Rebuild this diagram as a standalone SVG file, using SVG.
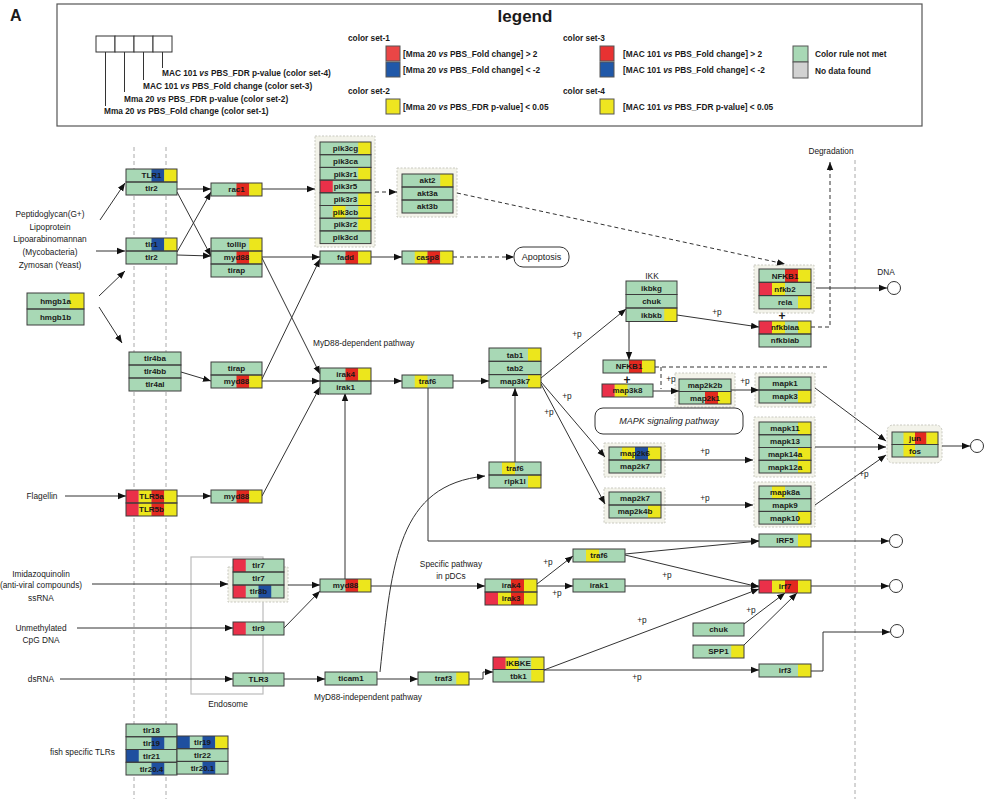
<svg xmlns="http://www.w3.org/2000/svg" width="985" height="799" viewBox="0 0 985 799">
<defs>
<marker id="a" viewBox="0 0 10 10" refX="10" refY="5" markerWidth="8" markerHeight="8" markerUnits="userSpaceOnUse" orient="auto"><path d="M0,1 L10,5 L0,9 z" fill="#111"/></marker>
<style>
text{font-family:"Liberation Sans",Arial,sans-serif;fill:#1a1a1a}
.t{font-size:8px;font-weight:bold;text-anchor:middle}
.l{font-size:8.3px}
.c{text-anchor:middle}
.lg{font-size:8.3px;font-weight:bold}
.gb{fill:#a8d8b5}
.o{fill:none;stroke:#3c3c3c;stroke-width:1}
.r1{fill:#ea3049}
.r{fill:#e3291f}
.b{fill:#1f4f9f}
.y{fill:#ece61c}
.bg{fill:#f3f3ea;stroke:#c9c9c0;stroke-width:1;stroke-dasharray:2,1.5}
.ln{fill:none;stroke:#333;stroke-width:1}
.ar{fill:none;stroke:#333;stroke-width:1;marker-end:url(#a)}
.da{fill:none;stroke:#333;stroke-width:1;stroke-dasharray:4,3;marker-end:url(#a)}
.dl{fill:none;stroke:#333;stroke-width:1;stroke-dasharray:4,3}
.vd{fill:none;stroke:#aaa;stroke-width:1;stroke-dasharray:4,3}
</style>
</defs>
<rect width="985" height="799" fill="#fff"/>

<!-- legend -->
<g id="legend">
<text x="10" y="21" style="font-size:16px;font-weight:bold">A</text>
<rect x="57" y="4" width="865" height="122" fill="#fff" stroke="#555" stroke-width="1.2"/>
<text x="525" y="22" class="c" style="font-size:17px;font-weight:bold">legend</text>
<rect x="96" y="36" width="19" height="16" fill="#fff" stroke="#333"/>
<rect x="115" y="36" width="19" height="16" fill="#fff" stroke="#333"/>
<rect x="134" y="36" width="19" height="16" fill="#fff" stroke="#333"/>
<rect x="153" y="36" width="19" height="16" fill="#fff" stroke="#333"/>
<path class="ln" d="M105.5,52V106M124.5,52V92M143.5,52V80M162.5,52V68"/>
<text x="162" y="76" class="lg">MAC 101 <tspan font-style="italic">vs</tspan> PBS_FDR p-value (color set-4)</text>
<text x="143" y="89" class="lg">MAC 101 <tspan font-style="italic">vs</tspan> PBS_Fold change (color set-3)</text>
<text x="124" y="102" class="lg">Mma 20 <tspan font-style="italic">vs</tspan> PBS_FDR p-value (color set-2)</text>
<text x="104" y="114" class="lg">Mma 20 <tspan font-style="italic">vs</tspan> PBS_Fold change (color set-1)</text>
<text x="348" y="41" class="lg">color set-1</text>
<text x="348" y="94" class="lg">color set-2</text>
<text x="563" y="41" class="lg">color set-3</text>
<text x="563" y="94" class="lg">color set-4</text>
<rect x="386" y="46" width="14" height="15" fill="#ea4646" stroke="#555"/>
<rect x="386" y="62" width="14" height="15" fill="#2058a8" stroke="#555"/>
<rect x="386" y="99" width="14" height="15" fill="#eee620" stroke="#555"/>
<rect x="600" y="46" width="14" height="15" fill="#e83232" stroke="#555"/>
<rect x="600" y="62" width="14" height="15" fill="#2058a8" stroke="#555"/>
<rect x="600" y="99" width="14" height="15" fill="#eee620" stroke="#555"/>
<rect x="793" y="46" width="15" height="16" fill="#a8d8b5" stroke="#555"/>
<rect x="793" y="62" width="15" height="16" fill="#d2d2d2" stroke="#555"/>
<text x="403" y="57" class="lg">[Mma 20 <tspan font-style="italic">vs</tspan> PBS_Fold change] &gt; 2</text>
<text x="403" y="73" class="lg">[Mma 20 <tspan font-style="italic">vs</tspan> PBS_Fold change] &lt; -2</text>
<text x="403" y="110" class="lg">[Mma 20 <tspan font-style="italic">vs</tspan> PBS_FDR p-value] &lt; 0.05</text>
<text x="623" y="57" class="lg">[MAC 101 <tspan font-style="italic">vs</tspan> PBS_Fold change] &gt; 2</text>
<text x="623" y="73" class="lg">[MAC 101 <tspan font-style="italic">vs</tspan> PBS_Fold change] &lt; -2</text>
<text x="623" y="110" class="lg">[MAC 101 <tspan font-style="italic">vs</tspan> PBS_FDR p-value] &lt; 0.05</text>
<text x="815" y="57" class="lg">Color rule not met</text>
<text x="815" y="74" class="lg">No data found</text>
</g>

<!-- compartment lines -->
<g id="compartments">
<path class="vd" d="M134,147V799M166,147V799"/>
<path class="vd" d="M855,160V799" stroke="#bbb"/>
<rect x="191" y="557" width="72" height="137" fill="none" stroke="#bbb" stroke-width="1.2"/>
<text x="228" y="707" class="l c">Endosome</text>
</g>

<!-- group backgrounds -->
<g id="groups">
<rect class="bg" x="315" y="136" width="60" height="111"/>
<rect class="bg" x="397" y="168" width="60" height="49"/>
<rect class="bg" x="754" y="265" width="60" height="48"/>
<rect class="bg" x="675" y="373" width="60" height="34"/>
<rect class="bg" x="755" y="373" width="60" height="34"/>
<rect class="bg" x="604" y="443" width="61" height="34"/>
<rect class="bg" x="604" y="488" width="61" height="35"/>
<rect class="bg" x="754" y="417" width="61" height="60"/>
<rect class="bg" x="754" y="482" width="61" height="45"/>
<rect class="bg" x="887" y="425" width="55" height="38" rx="6"/>
<rect class="bg" x="228" y="567" width="60" height="35"/>
</g>

<!-- connectors -->
<g id="connectors">
<path class="ar" d="M100,220L125,183"/>
<path class="ar" d="M96,251L125,251"/>
<path class="ar" d="M99,296L125,271"/>
<path class="ar" d="M99,307L122,343"/>
<path class="ar" d="M177,189L211,189"/>
<path class="ar" d="M177,192L211,256"/>
<path class="ar" d="M177,252L211,192"/>
<path class="ar" d="M177,255L211,256"/>
<path class="ar" d="M262,189L315,189"/>
<path class="ar" d="M262,257L320,257"/>
<path class="ar" d="M262,258L320,374"/>
<path class="ar" d="M262,379L320,259"/>
<path class="ar" d="M262,381L320,381"/>
<path class="ar" d="M181,372L211,381"/>
<path class="ar" d="M262,496L320,387"/>
<path class="ar" d="M65,496L126,496"/>
<path class="ar" d="M177,496L211,496"/>
<path class="da" d="M375,192L397,192"/>
<path class="ar" d="M371,257L402,257"/>
<path class="da" d="M453,257L514,257"/>
<path class="ar" d="M371,381L402,381"/>
<path class="ar" d="M453,381L489,381"/>
<path class="da" d="M457,193L785,264"/>
<path class="ar" d="M541,378L626,309"/>
<path class="ar" d="M541,382L605,457"/>
<path class="ar" d="M541,384L605,504"/>
<path class="ar" d="M515,462L515,388"/>
<path class="ar" d="M629,322L629,360"/>
<path class="ar" d="M677,315L759,327"/>
<path class="ar" d="M816,288L887,288"/>
<path class="da" d="M811,327H830V162"/>
<path class="dl" d="M655,367H830M661,367V389"/>
<path class="ar" d="M653,391L679,391"/>
<path class="ar" d="M731,390L759,390"/>
<path class="ar" d="M661,460L753,460"/>
<path class="ar" d="M661,505L753,505"/>
<path class="ar" d="M815,388L886,441"/>
<path class="ar" d="M815,447L886,447"/>
<path class="ar" d="M815,505L886,455"/>
<path class="ar" d="M942,446L970,446"/>
<path class="ar" d="M428,387V541H759"/>
<path class="ar" d="M625,554L759,541"/>
<path class="ar" d="M625,555L759,587"/>
<path class="ar" d="M625,586L759,586"/>
<path class="ar" d="M811,541L889,541"/>
<path class="ar" d="M811,586L889,586"/>
<path class="ar" d="M544,670L759,589"/>
<path class="ar" d="M544,670L759,670"/>
<path class="ar" d="M811,671H823V632H890"/>
<path class="ar" d="M744,624L785,593"/>
<path class="ar" d="M744,645L797,593"/>
<path class="ar" d="M537,584L573,556"/>
<path class="ar" d="M537,586L573,586"/>
<path class="ar" d="M371,586L485,586"/>
<path class="ar" d="M345,579L345,393"/>
<path class="ar" d="M92,584L228,584"/>
<path class="ar" d="M288,585L320,585"/>
<path class="ar" d="M284,628L320,591"/>
<path class="ar" d="M77,628L233,628"/>
<path class="ar" d="M60,679L233,679"/>
<path class="ar" d="M284,679L325,679"/>
<path class="ar" d="M377,679L418,679"/>
<path class="ar" d="M469,679H483V672H493"/>
<path class="ar" d="M380,672C392,560 398,485 485,476"/>
<g class="l c">
<text x="577" y="337">+p</text>
<text x="567" y="399">+p</text>
<text x="549" y="415">+p</text>
<text x="717" y="315">+p</text>
<text x="671" y="382">+p</text>
<text x="745" y="384">+p</text>
<text x="705" y="454">+p</text>
<text x="705" y="501">+p</text>
<text x="864" y="477">+p</text>
<text x="667" y="578">+p</text>
<text x="642" y="623">+p</text>
<text x="751" y="613">+p</text>
<text x="548" y="565">+p</text>
<text x="557" y="596">+p</text>
<text x="637" y="680">+p</text>
</g>
</g>

<!-- outputs -->
<g id="outputs" fill="#fff" stroke="#333" stroke-width="1">
<circle cx="894" cy="288" r="6.5"/>
<circle cx="977" cy="446" r="6.5"/>
<circle cx="896" cy="541" r="6.5"/>
<circle cx="896" cy="586" r="6.5"/>
<circle cx="897" cy="631" r="6.5"/>
</g>

<!-- free labels -->
<g id="labels" class="l">
<text x="50" y="217" class="c">Peptidoglycan(G+)</text>
<text x="50" y="230" class="c">Lipoprotein</text>
<text x="50" y="242" class="c">Lipoarabinomannan</text>
<text x="50" y="255" class="c">(Mycobacteria)</text>
<text x="50" y="268" class="c">Zymosan (Yeast)</text>
<text x="42" y="499" class="c">Flagellin</text>
<text x="41" y="577" class="c">Imidazoquinolin</text>
<text x="41" y="588" class="c">(anti-viral compounds)</text>
<text x="41" y="601" class="c">ssRNA</text>
<text x="41" y="631" class="c">Unmethylated</text>
<text x="41" y="643" class="c">CpG DNA</text>
<text x="41" y="682" class="c">dsRNA</text>
<text x="50" y="755">fish specific TLRs</text>
<text x="313" y="346">MyD88-dependent pathway</text>
<text x="314" y="700">MyD88-independent pathway</text>
<text x="451" y="567" class="c">Specific pathway</text>
<text x="451" y="579" class="c">in pDCs</text>
<text x="652" y="279" class="c">IKK</text>
<text x="831" y="154" class="c">Degradation</text>
<text x="886" y="275" class="c">DNA</text>
<text x="782" y="320" class="c" style="font-size:12px;font-weight:bold">+</text>
<text x="627" y="384" class="c" style="font-size:12px;font-weight:bold">+</text>
</g>

<g id="n-apoptosis"><rect x="514" y="247" width="55" height="20" rx="9" fill="#fff" stroke="#333"/><text x="541.5" y="260" class="c" style="font-size:9px">Apoptosis</text></g>
<g id="n-mapk-pathway"><rect x="595" y="408" width="148" height="26" rx="8" fill="#fff" stroke="#333"/><text x="669" y="424" class="c" style="font-size:9px;font-style:italic">MAPK signaling pathway</text></g>

<!-- nodes -->
<g id="n-TLR1-tlr2" transform="translate(126,169)"><rect class="gb" width="51" height="26"/>
<rect class="b" x="25.5" width="12.75" height="13"/><rect class="y" x="38.25" width="12.75" height="13"/>
<rect class="o" width="51" height="13"/><rect class="o" y="13" width="51" height="13"/>
<text class="t" x="25.5" y="9.3">TLR1</text><text class="t" x="25.5" y="22.3">tlr2</text></g>

<g id="n-tlr1-tlr2" transform="translate(126,238)"><rect class="gb" width="51" height="26"/>
<rect class="b" x="25.5" width="12.75" height="13"/><rect class="y" x="38.25" width="12.75" height="13"/>
<rect class="o" width="51" height="13"/><rect class="o" y="13" width="51" height="13"/>
<text class="t" x="25.5" y="9.3">tlr1</text><text class="t" x="25.5" y="22.3">tlr2</text></g>

<g id="n-hmgb1" transform="translate(27,293)"><rect class="gb" width="57" height="32"/>
<rect class="y" x="42.75" width="14.25" height="16"/>
<rect class="o" width="57" height="16"/><rect class="o" y="16" width="57" height="16"/>
<text class="t" x="28.5" y="11">hmgb1a</text><text class="t" x="28.5" y="27">hmgb1b</text></g>

<g id="n-tlr4" transform="translate(129,352)"><rect class="gb" width="52" height="39"/>
<rect class="o" width="52" height="13"/><rect class="o" y="13" width="52" height="13"/><rect class="o" y="26" width="52" height="13"/>
<text class="t" x="26" y="9.3">tlr4ba</text><text class="t" x="26" y="22.3">tlr4bb</text><text class="t" x="26" y="35.3">tlr4al</text></g>

<g id="n-rac1" transform="translate(211,183)"><rect class="gb" width="51" height="13"/>
<rect class="r" x="25.5" width="12.75" height="13"/><rect class="y" x="38.25" width="12.75" height="13"/>
<rect class="o" width="51" height="13"/><text class="t" x="25.5" y="9.3">rac1</text></g>

<g id="n-tollip-myd88-tirap" transform="translate(211,238)"><rect class="gb" width="51" height="39"/>
<rect class="y" x="38.25" width="12.75" height="13"/>
<rect class="r" x="25.5" y="13" width="12.75" height="13"/><rect class="y" x="38.25" y="13" width="12.75" height="13"/>
<rect class="o" width="51" height="13"/><rect class="o" y="13" width="51" height="13"/><rect class="o" y="26" width="51" height="13"/>
<text class="t" x="25.5" y="9.3">tollip</text><text class="t" x="25.5" y="22.3">myd88</text><text class="t" x="25.5" y="35.3">tirap</text></g>

<g id="n-tirap-myd88" transform="translate(211,362)"><rect class="gb" width="51" height="26"/>
<rect class="r" x="25.5" y="13" width="12.75" height="13"/><rect class="y" x="38.25" y="13" width="12.75" height="13"/>
<rect class="o" width="51" height="13"/><rect class="o" y="13" width="51" height="13"/>
<text class="t" x="25.5" y="9.3">tirap</text><text class="t" x="25.5" y="22.3">myd88</text></g>

<g id="n-pik3" transform="translate(320,142)"><rect class="gb" width="51" height="101.6"/>
<rect class="y" x="38.25" y="0" width="12.75" height="12.7"/>
<rect class="y" x="38.25" y="25.4" width="12.75" height="12.7"/>
<rect class="r1" x="0" y="38.1" width="12.75" height="12.7"/>
<rect class="y" x="38.25" y="50.8" width="12.75" height="12.7"/>
<rect class="y" x="12.75" y="63.5" width="12.75" height="12.7"/><rect class="y" x="38.25" y="63.5" width="12.75" height="12.7"/>
<rect class="y" x="38.25" y="76.2" width="12.75" height="12.7"/>
<rect class="o" width="51" height="12.7"/><rect class="o" y="12.7" width="51" height="12.7"/><rect class="o" y="25.4" width="51" height="12.7"/><rect class="o" y="38.1" width="51" height="12.7"/><rect class="o" y="50.8" width="51" height="12.7"/><rect class="o" y="63.5" width="51" height="12.7"/><rect class="o" y="76.2" width="51" height="12.7"/><rect class="o" y="88.9" width="51" height="12.7"/>
<text class="t" x="25.5" y="9.2">pik3cg</text><text class="t" x="25.5" y="21.9">pik3ca</text><text class="t" x="25.5" y="34.6">pik3r1</text><text class="t" x="25.5" y="47.3">pik3r5</text><text class="t" x="25.5" y="60">pik3r3</text><text class="t" x="25.5" y="72.7">pik3cb</text><text class="t" x="25.5" y="85.4">pik3r2</text><text class="t" x="25.5" y="98.1">pik3cd</text></g>

<g id="n-akt" transform="translate(402,174)"><rect class="gb" width="51" height="39"/>
<rect class="y" x="38.25" width="12.75" height="13"/>
<rect class="o" width="51" height="13"/><rect class="o" y="13" width="51" height="13"/><rect class="o" y="26" width="51" height="13"/>
<text class="t" x="25.5" y="9.3">akt2</text><text class="t" x="25.5" y="22.3">akt3a</text><text class="t" x="25.5" y="35.3">akt3b</text></g>

<g id="n-fadd" transform="translate(320,251)"><rect class="gb" width="51" height="13"/>
<rect class="r" x="25.5" width="12.75" height="13"/><rect class="y" x="38.25" width="12.75" height="13"/>
<rect class="o" width="51" height="13"/><text class="t" x="25.5" y="9.3">fadd</text></g>

<g id="n-casp8" transform="translate(402,251)"><rect class="gb" width="51" height="13"/>
<rect class="y" x="12.75" width="12.75" height="13"/><rect class="r" x="25.5" width="12.75" height="13"/><rect class="y" x="38.25" width="12.75" height="13"/>
<rect class="o" width="51" height="13"/><text class="t" x="25.5" y="9.3">casp8</text></g>

<g id="n-irak4-irak1" transform="translate(320,368)"><rect class="gb" width="51" height="26"/>
<rect class="r" x="25.5" width="12.75" height="13"/><rect class="y" x="38.25" width="12.75" height="13"/>
<rect class="o" width="51" height="13"/><rect class="o" y="13" width="51" height="13"/>
<text class="t" x="25.5" y="9.3">irak4</text><text class="t" x="25.5" y="22.3">irak1</text></g>

<g id="n-traf6" transform="translate(402,375)"><rect class="gb" width="51" height="13"/>
<rect class="y" x="12.75" width="12.75" height="13"/>
<rect class="o" width="51" height="13"/><text class="t" x="25.5" y="9.3">traf6</text></g>

<g id="n-tab" transform="translate(489,348)"><rect class="gb" width="52" height="40"/>
<rect class="y" x="39" width="13" height="13.3"/><rect class="y" x="39" y="26.6" width="13" height="13.3"/>
<rect class="o" width="52" height="13.3"/><rect class="o" y="13.3" width="52" height="13.3"/><rect class="o" y="26.6" width="52" height="13.3"/>
<text class="t" x="26" y="9.5">tab1</text><text class="t" x="26" y="22.8">tab2</text><text class="t" x="26" y="36.1">map3k7</text></g>

<g id="n-traf6-ripk1l" transform="translate(489,462)"><rect class="gb" width="52" height="26"/>
<rect class="y" x="13" width="13" height="13"/><rect class="y" x="39" y="13" width="13" height="13"/>
<rect class="o" width="52" height="13"/><rect class="o" y="13" width="52" height="13"/>
<text class="t" x="26" y="9.3">traf6</text><text class="t" x="26" y="22.3">ripk1l</text></g>

<g id="n-IKK" transform="translate(626,281)"><rect class="gb" width="51" height="40.5"/>
<rect class="y" x="38.25" y="27" width="12.75" height="13.5"/>
<rect class="o" width="51" height="13.5"/><rect class="o" y="13.5" width="51" height="13.5"/><rect class="o" y="27" width="51" height="13.5"/>
<text class="t" x="25.5" y="9.6">ikbkg</text><text class="t" x="25.5" y="23.1">chuk</text><text class="t" x="25.5" y="36.6">ikbkb</text></g>

<g id="n-NFKB" transform="translate(759,269)"><rect class="gb" width="52" height="40"/>
<rect class="r" x="26" width="13" height="13.3"/><rect class="y" x="39" width="13" height="13.3"/>
<rect class="r1" y="13.3" width="13" height="13.3"/><rect class="y" x="13" y="13.3" width="13" height="13.3"/>
<rect class="y" x="39" y="26.6" width="13" height="13.3"/>
<rect class="o" width="52" height="13.3"/><rect class="o" y="13.3" width="52" height="13.3"/><rect class="o" y="26.6" width="52" height="13.3"/>
<text class="t" x="26" y="9.5">NFKB1</text><text class="t" x="26" y="22.8">nfkb2</text><text class="t" x="26" y="36.1">rela</text></g>

<g id="n-nfkbia" transform="translate(759,321)"><rect class="gb" width="52" height="26"/>
<rect class="r1" width="13" height="13"/><rect class="y" x="13" width="13" height="13"/><rect class="y" x="39" width="13" height="13"/>
<rect class="o" width="52" height="13"/><rect class="o" y="13" width="52" height="13"/>
<text class="t" x="26" y="9.3">nfkbiaa</text><text class="t" x="26" y="22.3">nfkbiab</text></g>

<g id="n-NFKB1b" transform="translate(603,360)"><rect class="gb" width="52" height="13"/>
<rect class="r" x="26" width="13" height="13"/><rect class="y" x="39" width="13" height="13"/>
<rect class="o" width="52" height="13"/><text class="t" x="26" y="9.3">NFKB1</text></g>

<g id="n-map3k8" transform="translate(602,384)"><rect class="gb" width="51" height="13"/>
<rect class="r1" width="12.75" height="13"/><rect class="y" x="12.75" width="12.75" height="13"/>
<rect class="o" width="51" height="13"/><text class="t" x="25.5" y="9.3">map3k8</text></g>

<g id="n-map2k2b" transform="translate(679,379)"><rect class="gb" width="52" height="25"/>
<rect class="r" x="26" y="12.5" width="13" height="12.5"/><rect class="y" x="39" y="12.5" width="13" height="12.5"/>
<rect class="o" width="52" height="12.5"/><rect class="o" y="12.5" width="52" height="12.5"/>
<text class="t" x="26" y="9.1">map2k2b</text><text class="t" x="26" y="21.6">map2k1</text></g>

<g id="n-mapk1" transform="translate(759,377)"><rect class="gb" width="52" height="26"/>
<rect class="y" x="39" y="13" width="13" height="13"/>
<rect class="o" width="52" height="13"/><rect class="o" y="13" width="52" height="13"/>
<text class="t" x="26" y="9.3">mapk1</text><text class="t" x="26" y="22.3">mapk3</text></g>

<g id="n-map2k6" transform="translate(609,447)"><rect class="gb" width="52" height="26"/>
<rect class="y" x="13" width="13" height="13"/><rect class="b" x="26" width="13" height="13"/><rect class="y" x="39" width="13" height="13"/>
<rect class="o" width="52" height="13"/><rect class="o" y="13" width="52" height="13"/>
<text class="t" x="26" y="9.3">map2k6</text><text class="t" x="26" y="22.3">map2k7</text></g>

<g id="n-map2k7" transform="translate(609,492)"><rect class="gb" width="52" height="26"/>
<rect class="y" x="39" y="13" width="13" height="13"/>
<rect class="o" width="52" height="13"/><rect class="o" y="13" width="52" height="13"/>
<text class="t" x="26" y="9.3">map2k7</text><text class="t" x="26" y="22.3">map2k4b</text></g>

<g id="n-mapk11" transform="translate(759,422)"><rect class="gb" width="52" height="51"/>
<rect class="y" x="39" y="0" width="13" height="12.75"/><rect class="y" x="39" y="25.5" width="13" height="12.75"/><rect class="y" x="39" y="38.25" width="13" height="12.75"/>
<rect class="o" width="52" height="12.75"/><rect class="o" y="12.75" width="52" height="12.75"/><rect class="o" y="25.5" width="52" height="12.75"/><rect class="o" y="38.25" width="52" height="12.75"/>
<text class="t" x="26" y="9.2">mapk11</text><text class="t" x="26" y="22">mapk13</text><text class="t" x="26" y="34.7">mapk14a</text><text class="t" x="26" y="47.5">mapk12a</text></g>

<g id="n-mapk8a" transform="translate(759,486)"><rect class="gb" width="52" height="38"/>
<rect class="y" x="13" width="13" height="12.7"/><rect class="y" x="39" y="25.4" width="13" height="12.7"/>
<rect class="o" width="52" height="12.7"/><rect class="o" y="12.7" width="52" height="12.7"/><rect class="o" y="25.4" width="52" height="12.7"/>
<text class="t" x="26" y="9.2">mapk8a</text><text class="t" x="26" y="21.9">mapk9</text><text class="t" x="26" y="34.6">mapk10</text></g>

<g id="n-jun-fos" transform="translate(892,432)"><rect class="gb" width="46" height="25"/>
<rect class="y" x="11.5" width="11.5" height="12.5"/><rect class="r" x="23" width="11.5" height="12.5"/><rect class="y" x="34.5" width="11.5" height="12.5"/>
<rect class="y" x="11.5" y="12.5" width="11.5" height="12.5"/>
<rect class="o" width="46" height="12.5"/><rect class="o" y="12.5" width="46" height="12.5"/>
<text class="t" x="23" y="9.1">jun</text><text class="t" x="23" y="21.6">fos</text></g>

<g id="n-IRF5" transform="translate(759,534)"><rect class="gb" width="52" height="13"/>
<rect class="y" x="39" width="13" height="13"/>
<rect class="o" width="52" height="13"/><text class="t" x="26" y="9.3">IRF5</text></g>

<g id="n-irf7" transform="translate(759,580)"><rect class="gb" width="52" height="13"/>
<rect class="r1" width="13" height="13"/><rect class="y" x="13" width="13" height="13"/><rect class="r" x="26" width="13" height="13"/><rect class="y" x="39" width="13" height="13"/>
<rect class="o" width="52" height="13"/><text class="t" x="26" y="9.3">irf7</text></g>

<g id="n-traf6-pdc" transform="translate(573,549)"><rect class="gb" width="52" height="13"/>
<rect class="y" x="13" width="13" height="13"/>
<rect class="o" width="52" height="13"/><text class="t" x="26" y="9.3">traf6</text></g>

<g id="n-irak1-pdc" transform="translate(573,579)"><rect class="gb" width="52" height="13"/>
<rect class="o" width="52" height="13"/><text class="t" x="26" y="9.3">irak1</text></g>

<g id="n-irak4-irak3" transform="translate(485,579)"><rect class="gb" width="52" height="26"/>
<rect class="r" x="26" width="13" height="13"/><rect class="y" x="39" width="13" height="13"/>
<rect class="r1" y="13" width="13" height="13"/><rect class="y" x="13" y="13" width="13" height="13"/><rect class="r" x="26" y="13" width="13" height="13"/><rect class="y" x="39" y="13" width="13" height="13"/>
<rect class="o" width="52" height="13"/><rect class="o" y="13" width="52" height="13"/>
<text class="t" x="26" y="9.3">irak4</text><text class="t" x="26" y="22.3">irak3</text></g>

<g id="n-myd88-pdc" transform="translate(320,579)"><rect class="gb" width="51" height="13"/>
<rect class="r" x="25.5" width="12.75" height="13"/><rect class="y" x="38.25" width="12.75" height="13"/>
<rect class="o" width="51" height="13"/><text class="t" x="25.5" y="9.3">myd88</text></g>

<g id="n-myd88-tlr5" transform="translate(211,490)"><rect class="gb" width="51" height="13"/>
<rect class="r" x="25.5" width="12.75" height="13"/><rect class="y" x="38.25" width="12.75" height="13"/>
<rect class="o" width="51" height="13"/><text class="t" x="25.5" y="9.3">myd88</text></g>

<g id="n-TLR5" transform="translate(126,490)"><rect class="gb" width="51" height="26"/>
<rect class="r1" width="12.75" height="13"/><rect class="y" x="12.75" width="12.75" height="13"/><rect class="r" x="25.5" width="12.75" height="13"/><rect class="y" x="38.25" width="12.75" height="13"/>
<rect class="r1" y="13" width="12.75" height="13"/><rect class="y" x="12.75" y="13" width="12.75" height="13"/><rect class="r" x="25.5" y="13" width="12.75" height="13"/><rect class="y" x="38.25" y="13" width="12.75" height="13"/>
<rect class="o" width="51" height="13"/><rect class="o" y="13" width="51" height="13"/>
<text class="t" x="25.5" y="9.3">TLR5a</text><text class="t" x="25.5" y="22.3">TLR5b</text></g>

<g id="n-tlr7" transform="translate(233,559)"><rect class="gb" width="51" height="39"/>
<rect class="r1" width="12.75" height="13"/>
<rect class="r1" y="26" width="12.75" height="13"/><rect class="b" x="25.5" y="26" width="12.75" height="13"/>
<rect class="o" width="51" height="13"/><rect class="o" y="13" width="51" height="13"/><rect class="o" y="26" width="51" height="13"/>
<text class="t" x="25.5" y="9.3">tlr7</text><text class="t" x="25.5" y="22.3">tlr7</text><text class="t" x="25.5" y="35.3">tlr8b</text></g>

<g id="n-tlr9" transform="translate(233,622)"><rect class="gb" width="51" height="13"/>
<rect class="r1" width="12.75" height="13"/>
<rect class="o" width="51" height="13"/><text class="t" x="25.5" y="9.3">tlr9</text></g>

<g id="n-TLR3" transform="translate(233,673)"><rect class="gb" width="51" height="13"/>
<rect class="o" width="51" height="13"/><text class="t" x="25.5" y="9.3">TLR3</text></g>

<g id="n-ticam1" transform="translate(325,672)"><rect class="gb" width="52" height="13"/>
<rect class="o" width="52" height="13"/><text class="t" x="26" y="9.3">ticam1</text></g>

<g id="n-traf3" transform="translate(418,672)"><rect class="gb" width="51" height="13"/>
<rect class="y" x="38.25" width="12.75" height="13"/>
<rect class="o" width="51" height="13"/><text class="t" x="25.5" y="9.3">traf3</text></g>

<g id="n-IKBKE-tbk1" transform="translate(493,657)"><rect class="gb" width="51" height="25"/>
<rect class="r1" width="12.75" height="12.5"/><rect class="y" x="12.75" width="12.75" height="12.5"/><rect class="y" x="38.25" width="12.75" height="12.5"/>
<rect class="y" x="38.25" y="12.5" width="12.75" height="12.5"/>
<rect class="o" width="51" height="12.5"/><rect class="o" y="12.5" width="51" height="12.5"/>
<text class="t" x="25.5" y="9.1">IKBKE</text><text class="t" x="25.5" y="21.6">tbk1</text></g>

<g id="n-irf3" transform="translate(759,664)"><rect class="gb" width="52" height="13"/>
<rect class="y" x="39" width="13" height="13"/>
<rect class="o" width="52" height="13"/><text class="t" x="26" y="9.3">irf3</text></g>

<g id="n-chuk" transform="translate(693,623)"><rect class="gb" width="51" height="13"/>
<rect class="o" width="51" height="13"/><text class="t" x="25.5" y="9.3">chuk</text></g>

<g id="n-SPP1" transform="translate(693,645)"><rect class="gb" width="51" height="13"/>
<rect class="y" x="38.25" width="12.75" height="13"/>
<rect class="o" width="51" height="13"/><text class="t" x="25.5" y="9.3">SPP1</text></g>

<g id="n-fish1" transform="translate(126,724)"><rect class="gb" width="51" height="51"/>
<rect class="b" x="25.5" y="12.75" width="12.75" height="12.75"/><rect class="b" y="25.5" width="12.75" height="12.75"/><rect class="b" x="25.5" y="38.25" width="12.75" height="12.75"/>
<rect class="o" width="51" height="12.75"/><rect class="o" y="12.75" width="51" height="12.75"/><rect class="o" y="25.5" width="51" height="12.75"/><rect class="o" y="38.25" width="51" height="12.75"/>
<text class="t" x="25.5" y="9.2">tlr18</text><text class="t" x="25.5" y="22">tlr19</text><text class="t" x="25.5" y="34.7">tlr21</text><text class="t" x="25.5" y="47.5">tlr20.4</text></g>

<g id="n-fish2" transform="translate(177,736)"><rect class="gb" width="51" height="38"/>
<rect class="b" width="12.75" height="12.7"/><rect class="b" x="25.5" width="12.75" height="12.7"/><rect class="y" x="38.25" width="12.75" height="12.7"/>
<rect class="b" x="25.5" y="25.4" width="12.75" height="12.7"/>
<rect class="o" width="51" height="12.7"/><rect class="o" y="12.7" width="51" height="12.7"/><rect class="o" y="25.4" width="51" height="12.7"/>
<text class="t" x="25.5" y="9.2">tlr19</text><text class="t" x="25.5" y="21.9">tlr22</text><text class="t" x="25.5" y="34.6">tlr20.1</text></g>
</svg>
